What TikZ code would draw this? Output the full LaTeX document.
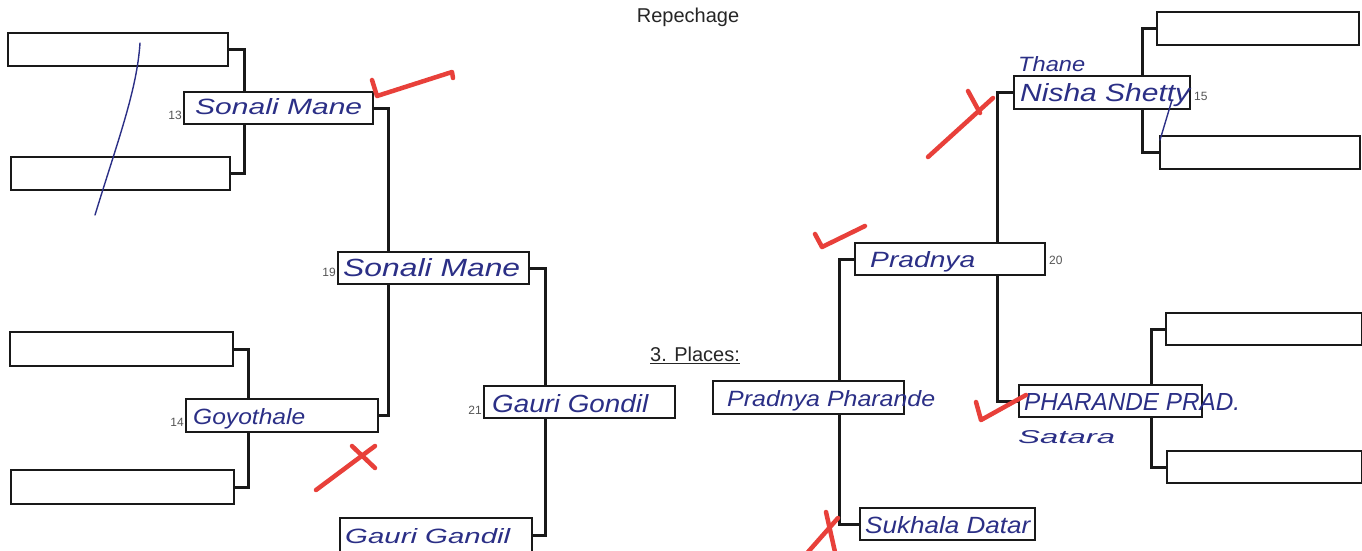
\documentclass[tikz,border=0pt]{standalone}
\usepackage{fontspec}
\usepackage{graphicx}
\setmainfont{Liberation Sans}
\newfontfamily\hand{Liberation Sans}
\usetikzlibrary{backgrounds}
\definecolor{ink}{HTML}{2B2F86}
\definecolor{redmark}{HTML}{E8403A}
\definecolor{numgray}{HTML}{555555}
\newcommand{\hw}[3]{\resizebox{#1pt}{#2pt}{\hand\itshape #3}}
\tikzset{
  box/.style={draw=black!90, line width=1.6pt, fill=white, inner sep=0pt},
  conn/.style={draw=black!90, line width=3pt},
  num/.style={font=\fontsize{12}{12}\selectfont, text=numgray, inner sep=0pt},
  hwtext/.style={text=ink, inner sep=0pt, anchor=west},
  redstroke/.style={draw=redmark, line width=4.5pt, line cap=round, line join=round},
  bluestroke/.style={draw=ink, line width=1.4pt, line cap=round},
  title/.style={font=\fontsize{20}{20}\selectfont, text=black!85, inner sep=0pt}
}
\begin{document}
\begin{tikzpicture}[x=1pt,y=-1pt]
\useasboundingbox (0,0) rectangle (1362,550);
\clip (0,0) rectangle (1362,550);
% ---- boxes ----
\node[box, minimum width=220pt, minimum height=33pt] (L1) at (118,49.5) {};
\node[box, minimum width=219pt, minimum height=33pt] (L2) at (120.5,173.5) {};
\node[box, minimum width=189pt, minimum height=32pt] (B13) at (278.5,108) {};
\node[box, minimum width=223pt, minimum height=34pt] (L3) at (121.5,349) {};
\node[box, minimum width=223pt, minimum height=34pt] (L4) at (122.5,487) {};
\node[box, minimum width=192pt, minimum height=33pt] (B14) at (282,415.5) {};
\node[box, minimum width=191pt, minimum height=32pt] (B19) at (433.5,268) {};
\node[box, minimum width=191pt, minimum height=32pt] (B21) at (579.5,402) {};
\node[box, minimum width=192pt, minimum height=34pt] (Bbot) at (436,535) {};
\node[box, minimum width=202pt, minimum height=33pt] (R1) at (1258,28.5) {};
\node[box, minimum width=200pt, minimum height=33pt] (R2) at (1260,152.5) {};
\node[box, minimum width=176pt, minimum height=33pt] (B15) at (1102,92.5) {};
\node[box, minimum width=190pt, minimum height=32pt] (B20) at (950,259) {};
\node[box, minimum width=183pt, minimum height=32pt] (BPh) at (1110.5,401) {};
\node[box, minimum width=196pt, minimum height=32pt] (R3) at (1264,329) {};
\node[box, minimum width=195pt, minimum height=32pt] (R4) at (1264.5,467) {};
\node[box, minimum width=191pt, minimum height=33pt] (BPP) at (808.5,397.5) {};
\node[box, minimum width=175pt, minimum height=32pt] (BSu) at (947.5,524) {};
% ---- connectors ----
\begin{scope}[on background layer]
\fill[white] (0,0) rectangle (1362,550);
\draw[conn] (L1.east) -- ++(16,0) |- (L2.east);
\draw[conn] (B13.east) -- ++(15,0) |- (B14.east);
\draw[conn] (L3.east) -- ++(15,0) |- (L4.east);
\draw[conn] (B19.east) -- ++(16,0) |- (Bbot.east);
\draw[conn] (R1.west) -- ++(-14,0) |- (R2.west);
\draw[conn] (B15.west) -- ++(-16,0) |- (BPh.west);
\draw[conn] (R3.west) -- ++(-14,0) |- (R4.west);
\draw[conn] (B20.west) -- ++(-15,0) |- (BSu.west);
\end{scope}
% ---- titles ----
\node[title] (rep) at (688,17) {Repechage};
\node[title] (places) at (695,355) {\underline{3. Places:}};
% ---- numbers ----
\node[num, anchor=east] (n13) at (182,115) {13};
\node[num, anchor=east] (n14) at (184,422) {14};
\node[num, anchor=east] (n19) at (336,272) {19};
\node[num, anchor=east] (n21) at (482,410) {21};
\node[num, anchor=west] (n15) at (1194,96) {15};
\node[num, anchor=west] (n20) at (1049,260) {20};
% ---- handwriting ----
\node[hwtext] (h13) at (195,107) {\hw{167}{16}{Sonali Mane}};
\node[hwtext] (h19) at (343,268) {\hw{177}{18}{Sonali Mane}};
\node[hwtext] (h14) at (193,419) {\hw{112}{16}{Goyothale}};
\node[hwtext] (h21) at (492,404) {\hw{156}{18}{Gauri Gondil}};
\node[hwtext] (hbot) at (345,536) {\hw{165}{15}{Gauri Gandil}};
\node[hwtext] (hth) at (1018,64) {\hw{67}{15}{Thane}};
\node[hwtext] (h15) at (1020,95) {\hw{170}{18}{Nisha Shetty}};
\node[hwtext] (h20) at (870,262) {\hw{105}{16}{Pradnya}};
\node[hwtext] (hph) at (1024,402) {\hw{216}{17}{PHARANDE PRAD.}};
\node[hwtext] (hsa) at (1018,437) {\hw{97}{13}{Satara}};
\node[hwtext] (hpp) at (727,401) {\hw{208}{16}{Pradnya Pharande}};
\node[hwtext] (hsu) at (865,525) {\hw{165}{17}{Sukhala Datar}};
% ---- pen strokes ----
\draw[bluestroke] (95,215) .. controls (118,140) and (137,90) .. (140,43);
\draw[bluestroke] (1172,100) -- (1160,140);
\draw[redstroke] (372,80) -- (377,96) -- (452,72) -- (453,78);
\draw[redstroke] (316,490) -- (375,446);
\draw[redstroke] (352,446) -- (375,468);
\draw[redstroke] (815,234) -- (822,247) -- (865,226);
\draw[redstroke] (928,157) -- (993,98);
\draw[redstroke] (968,91) -- (980,113);
\draw[redstroke] (976,402) -- (981,420) -- (1026,395);
\draw[redstroke] (808,552) -- (838,518);
\draw[redstroke] (826,512) -- (835,552);
\end{tikzpicture}
\end{document}
